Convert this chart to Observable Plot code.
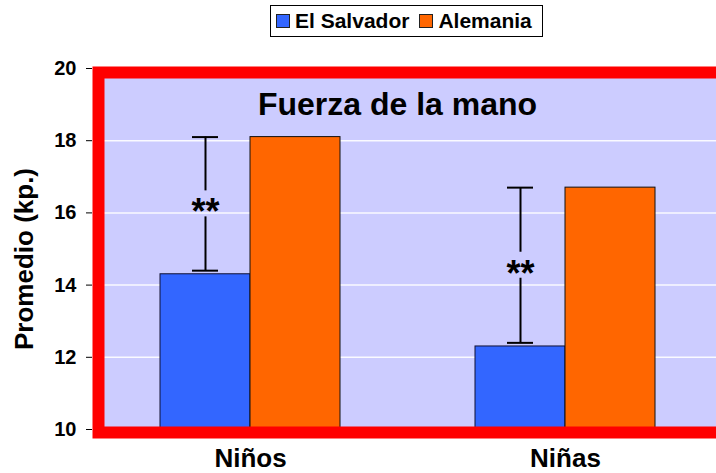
<!DOCTYPE html>
<html><head><meta charset="utf-8">
<script src="https://cdn.jsdelivr.net/npm/d3@7"></script>
<script src="https://cdn.jsdelivr.net/npm/@observablehq/plot@0.6"></script>
<style>
html,body{margin:0;padding:0;background:#fff;}
#wrap{position:relative;width:716px;height:473px;overflow:hidden;font-family:"Liberation Sans",Arial,sans-serif;}
#legend{height:44px;position:relative;}
#legend .box{position:absolute;left:270px;top:5px;width:273px;height:32px;box-sizing:border-box;border:1px solid #000;display:flex;align-items:center;padding-left:5px;font-weight:bold;font-size:21px;color:#000;}
.sw{width:14px;height:14px;box-sizing:border-box;border:1px solid #222;margin-right:5px;}
.item{display:flex;align-items:center;margin-right:10px;}
#chart svg{display:block;}
</style></head>
<body><div id="wrap"><div id="legend"><div class="box"></div></div><div id="chart"></div></div>
<script>
const groups = ["Niños", "Niñas"];
const series = ["El Salvador", "Alemania"];
const seriesColors = ["#3366FF", "#FF6600"];
const elSalvador = [14.3, 12.3];
const alemania = [18.1, 16.7];
const errLow = [14.4, 12.4];
const errHigh = [18.1, 16.7];
const signif = ["**", "**"];
const yDomain = [10, 20];
const yTicks = [10, 12, 14, 16, 18, 20];
const gridTicks = [12, 14, 16, 18];
const title = "Fuerza de la mano";
const yLabel = "Promedio (kp.)";

// legend
const box = document.querySelector("#legend .box");
series.forEach((s, i) => {
  const it = document.createElement("div");
  it.className = "item";
  const sw = document.createElement("div");
  sw.className = "sw";
  sw.style.background = seriesColors[i];
  const t = document.createElement("span");
  t.textContent = s;
  it.appendChild(sw); it.appendChild(t);
  box.appendChild(it);
});

const esRows = groups.map((g, i) => ({group: g, value: elSalvador[i]}));
const deRows = groups.map((g, i) => ({group: g, value: alemania[i]}));
const errRows = groups.map((g, i) => ({group: g, lo: errLow[i], hi: errHigh[i], mid: (errLow[i] + errHigh[i]) / 2, label: signif[i]}));

const frameInsets = {insetTop: 4, insetLeft: 6, insetBottom: -3, insetRight: -20};

const chart = Plot.plot({
  width: 716, height: 429,
  marginLeft: 92, marginRight: 0, marginTop: 24, marginBottom: 44,
  style: {fontFamily: '"Liberation Sans", Arial, sans-serif', fontSize: "20px", fontWeight: "bold", background: "transparent", color: "#000"},
  x: {type: "band", domain: groups, range: [92.5, 722.5], paddingInner: 0.4286, paddingOuter: 0.2143, axis: null},
  y: {domain: yDomain, ticks: yTicks, tickSize: 6, tickPadding: 10, label: null, tickFormat: d => String(d)},
  marks: [
    Plot.frame({fill: "#CCCCFF", stroke: "none", ...frameInsets}),
    Plot.ruleY(gridTicks, {stroke: "#ffffff", strokeWidth: 1.5, strokeOpacity: 0.9}),
    Plot.barY(esRows, {x: "group", y1: yDomain[0], y2: "value", fill: seriesColors[0], stroke: "#111133", strokeWidth: 1, insetRight: 90}),
    Plot.barY(deRows, {x: "group", y1: yDomain[0], y2: "value", fill: seriesColors[1], stroke: "#111", strokeWidth: 1, insetLeft: 90}),
    Plot.ruleX(errRows, {x: "group", y1: "mid", y2: "lo", dx: -45, stroke: "#000", strokeWidth: 2, insetTop: 13}),
    Plot.ruleX(errRows, {x: "group", y1: "hi", y2: "mid", dx: -45, stroke: "#000", strokeWidth: 2, insetBottom: 13}),
    Plot.tickY(errRows, {x: "group", y: "lo", insetLeft: 32, insetRight: 122, stroke: "#000", strokeWidth: 2}),
    Plot.tickY(errRows, {x: "group", y: "hi", insetLeft: 32, insetRight: 122, stroke: "#000", strokeWidth: 2}),
    Plot.text(errRows, {x: "group", y: "mid", text: "label", dx: -45, dy: 9, fontSize: 36, fontWeight: "bold", fill: "#000"}),
    Plot.frame({stroke: "#FF0000", strokeWidth: 12, fill: "none", ...frameInsets}),
    Plot.text([title], {frameAnchor: "top", textAnchor: "middle", lineAnchor: "top", dy: 24, dx: -7, fontSize: 32, fontWeight: "bold", fill: "#000"}),
    Plot.text(groups, {x: d => d, frameAnchor: "bottom", lineAnchor: "top", dy: 19, fontSize: 26, fontWeight: "bold", fill: "#000"}),
    Plot.text([yLabel], {frameAnchor: "left", textAnchor: "middle", rotate: -90, dx: -68, dy: 10, fontSize: 26, fontWeight: "bold", fill: "#000"})
  ]
});
document.getElementById("chart").appendChild(chart);
</script>
</body></html>
